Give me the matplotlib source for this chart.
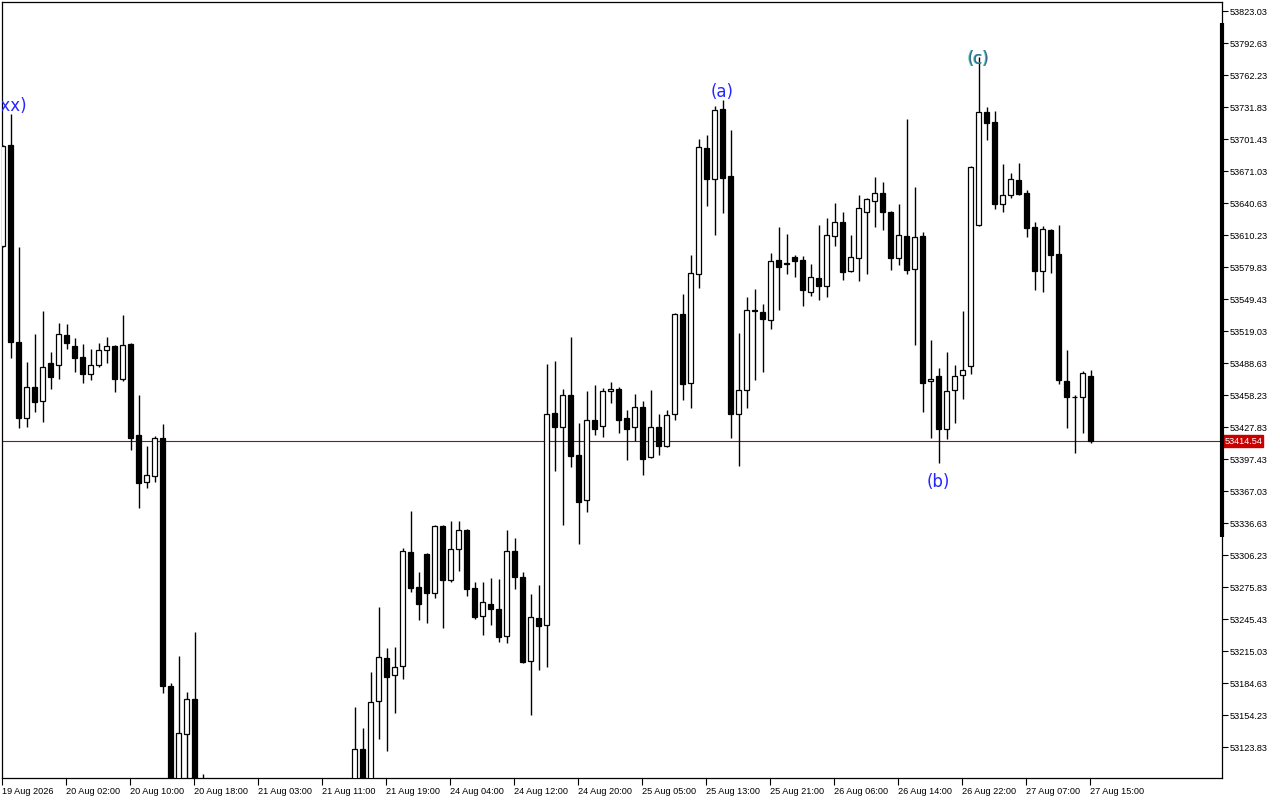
#!/usr/bin/env python3
''' Hourly candles with wave labels, drawn in the style of a trading terminal '''
import matplotlib
matplotlib.use('Agg')
import matplotlib.pyplot as plt
import matplotlib.transforms as mtrans
import numpy as np

# OHLC of the hourly bars, 19 Aug 18:00 .. 27 Aug 15:00
opens = [53599.8, 53695.7, 53508.6, 53436.4, 53465.8, 53452.5, 53488.6, 53486.7, 53515.2, 53504.8,
         53494.3, 53478.2, 53486.7, 53501.0, 53504.8, 53473.4, 53506.7, 53420.2, 53375.6, 53381.3,
         53417.4, 53181.8, 53075.4, 53136.2, 53169.4, 53060.0, 53040.0, 53020.0, 53035.0, 53055.0,
         53038.0, 53012.0, 52998.0, 53018.0, 53048.0, 53030.0, 53006.0, 53028.0, 53050.0, 53040.0,
         53058.0, 53070.0, 53052.0, 53068.0, 53075.0, 53121.9, 53082.0, 53167.5, 53208.4, 53192.2,
         53200.8, 53309.1, 53275.8, 53307.2, 53270.1, 53333.8, 53282.5, 53311.9, 53330.0, 53274.9,
         53248.3, 53259.7, 53254.9, 53229.3, 53310.0, 53285.3, 53205.5, 53246.4, 53239.7, 53441.1,
         53427.8, 53458.2, 53401.2, 53358.5, 53434.5, 53428.8, 53462.0, 53463.9, 53436.4, 53427.8,
         53446.8, 53399.3, 53427.8, 53409.8, 53440.2, 53535.2, 53469.6, 53573.2, 53692.9, 53663.4,
         53729.9, 53666.3, 53440.2, 53463.0, 53539.0, 53537.1, 53529.5, 53586.5, 53583.6, 53589.3,
         53586.5, 53556.1, 53569.4, 53561.8, 53609.3, 53622.6, 53576.0, 53588.4, 53632.1, 53642.5,
         53650.1, 53632.1, 53588.4, 53609.3, 53577.9, 53609.3, 53471.5, 53476.3, 53425.9, 53463.0,
         53477.2, 53485.8, 53619.7, 53727.1, 53717.6, 53639.7, 53648.2, 53662.5, 53650.1, 53617.8,
         53576.0, 53615.0, 53592.2, 53471.5, 53456.3, 53456.3, 53476.3]
highs = [53695.3, 53725.2, 53598.8, 53489.6, 53516.2, 53538.0, 53499.1, 53526.6, 53525.7, 53512.4,
         53506.7, 53501.9, 53507.6, 53513.3, 53506.0, 53534.2, 53507.5, 53458.2, 53409.8, 53419.3,
         53430.7, 53184.6, 53210.3, 53176.1, 53233.1, 53098.2, 53065.0, 53048.0, 53070.0, 53080.0,
         53052.0, 53030.0, 53026.0, 53060.0, 53075.0, 53044.0, 53035.0, 53062.0, 53078.0, 53066.0,
         53085.0, 53088.0, 53080.0, 53090.0, 53161.8, 53141.9, 53195.1, 53256.8, 53217.9, 53218.8,
         53312.9, 53348.0, 53290.1, 53308.0, 53335.0, 53335.0, 53338.5, 53338.5, 53331.0, 53280.6,
         53280.6, 53284.4, 53283.4, 53330.0, 53322.4, 53290.1, 53269.2, 53277.7, 53487.7, 53490.5,
         53463.9, 53513.3, 53431.6, 53462.0, 53467.7, 53464.9, 53470.6, 53465.8, 53444.0, 53459.2,
         53452.5, 53463.0, 53440.2, 53444.0, 53536.1, 53554.2, 53591.2, 53701.4, 53705.2, 53732.8,
         53738.5, 53710.0, 53517.1, 53551.3, 53558.9, 53544.7, 53593.1, 53617.8, 53611.2, 53591.2,
         53590.3, 53582.7, 53619.7, 53626.4, 53640.6, 53632.1, 53610.2, 53648.2, 53645.4, 53665.3,
         53660.6, 53633.0, 53639.7, 53720.4, 53655.8, 53613.1, 53510.5, 53483.9, 53499.1, 53486.7,
         53538.0, 53675.8, 53779.3, 53731.8, 53728.0, 53677.7, 53669.1, 53678.6, 53653.0, 53622.6,
         53618.8, 53615.9, 53619.7, 53501.0, 53458.2, 53481.0, 53482.0]
lows = [53599.3, 53493.4, 53426.9, 53427.8, 53442.1, 53432.6, 53463.9, 53473.4, 53501.9, 53480.1,
        53469.6, 53472.5, 53484.8, 53488.6, 53461.1, 53471.5, 53406.0, 53350.9, 53369.9, 53375.6,
        53175.1, 53059.2, 53064.0, 53080.0, 53050.0, 53025.0, 53010.0, 52995.0, 53015.0, 53030.0,
        53002.0, 52985.0, 52978.0, 53008.0, 53022.0, 52992.0, 52990.0, 53015.0, 53032.0, 53020.0,
        53040.0, 53045.0, 53038.0, 53050.0, 53060.0, 53065.0, 53070.0, 53131.4, 53120.0, 53156.1,
        53188.4, 53271.1, 53244.5, 53241.6, 53265.4, 53236.9, 53281.0, 53291.0, 53267.3, 53245.4,
        53230.2, 53239.7, 53223.6, 53222.6, 53273.9, 53203.6, 53154.2, 53197.0, 53199.8, 53386.0,
        53334.7, 53389.8, 53316.7, 53347.1, 53420.2, 53418.3, 53450.6, 53422.1, 53396.5, 53414.5,
        53382.2, 53398.4, 53401.2, 53408.8, 53434.5, 53453.5, 53445.9, 53559.9, 53637.8, 53610.2,
        53631.1, 53417.4, 53390.8, 53445.9, 53472.5, 53480.1, 53520.9, 53539.0, 53573.0, 53570.3,
        53542.8, 53552.3, 53548.5, 53551.3, 53599.8, 53567.5, 53575.0, 53566.5, 53573.2, 53617.8,
        53615.0, 53577.0, 53581.7, 53573.2, 53505.7, 53442.1, 53417.4, 53393.6, 53416.4, 53431.6,
        53454.4, 53478.2, 53619.0, 53700.5, 53634.9, 53632.1, 53645.4, 53648.2, 53608.3, 53558.0,
        53556.1, 53574.1, 53468.7, 53426.9, 53403.1, 53422.1, 53412.6]
closes = [53694.8, 53508.6, 53436.4, 53465.8, 53451.6, 53484.8, 53475.3, 53516.2, 53507.6, 53493.4,
          53478.2, 53486.7, 53501.0, 53504.8, 53473.4, 53505.7, 53417.4, 53374.6, 53382.2, 53417.4,
          53181.8, 53073.5, 53137.1, 53169.4, 53060.0, 53040.0, 53020.0, 53035.0, 53055.0, 53038.0,
          53012.0, 52998.0, 53018.0, 53048.0, 53030.0, 53006.0, 53028.0, 53050.0, 53040.0, 53058.0,
          53070.0, 53052.0, 53068.0, 53075.0, 53121.9, 53080.0, 53166.6, 53209.3, 53190.3, 53199.8,
          53310.0, 53274.9, 53259.7, 53270.1, 53333.8, 53282.5, 53311.9, 53330.0, 53273.9, 53247.3,
          53261.6, 53254.9, 53228.3, 53310.0, 53285.3, 53204.6, 53247.3, 53238.8, 53440.2, 53427.8,
          53458.2, 53400.3, 53356.6, 53434.5, 53425.9, 53462.0, 53463.9, 53434.5, 53425.9, 53446.8,
          53397.4, 53427.8, 53409.8, 53439.2, 53535.2, 53468.7, 53574.1, 53693.8, 53663.4, 53729.0,
          53664.4, 53440.2, 53463.0, 53539.0, 53538.0, 53530.4, 53585.5, 53579.8, 53582.7, 53585.5,
          53558.0, 53570.3, 53561.8, 53610.2, 53622.6, 53575.1, 53589.3, 53635.9, 53644.4, 53650.1,
          53632.1, 53588.4, 53610.2, 53577.0, 53608.3, 53469.6, 53473.4, 53425.9, 53462.0, 53476.3,
          53482.0, 53674.8, 53727.1, 53716.6, 53639.7, 53648.2, 53663.4, 53649.2, 53616.9, 53576.0,
          53615.9, 53591.2, 53472.5, 53456.3, 53456.8, 53479.1, 53414.54]

time_labels = ['19 Aug 2026', '20 Aug 02:00', '20 Aug 10:00', '20 Aug 18:00', '21 Aug 03:00',
               '21 Aug 11:00', '21 Aug 19:00', '24 Aug 04:00', '24 Aug 12:00', '24 Aug 20:00',
               '25 Aug 05:00', '25 Aug 13:00', '25 Aug 21:00', '26 Aug 06:00', '26 Aug 14:00',
               '26 Aug 22:00', '27 Aug 07:00', '27 Aug 15:00']
bars_per_label = 8

# price scale shown on the right
price_top = 53823.03
price_step = 30.40
n_price_ticks = 24
view_range = (53094.4, 53831.6)
scale_bar = (53323.0, 53812.0)

# wave marks: bar index, text, placed at 'high' or 'low'
wave_bars = [1, 90, 117, 122]
wave_texts = ['(xx)', '(a)', '(b)', '(c)']
wave_sides = ['high', 'high', 'low', 'center']

o = np.array(opens)
h = np.array(highs)
l = np.array(lows)
c = np.array(closes)
x = np.arange(len(o))
bull = c > o

fig = plt.figure(figsize=(12.8, 8), dpi=100)
ax = fig.add_axes([2 / 1280, 22 / 800, 1220 / 1280, 776 / 800])

# wicks, then the bodies over them
ax.vlines(x, l, h, color='black', linewidth=1.0, zorder=2)
body_low = np.minimum(o, c)
body_h = np.abs(c - o)
ax.bar(x[bull], body_h[bull], bottom=body_low[bull], width=0.62, color='white',
       edgecolor='black', linewidth=0.9, zorder=3)
ax.bar(x[~bull], body_h[~bull], bottom=body_low[~bull], width=0.62, color='black',
       edgecolor='black', linewidth=0.9, zorder=3)

# last price line and its tag on the scale
last = closes[-1]
ax.axhline(last, color='#7a1a1a', linewidth=0.8, zorder=1)
trans = mtrans.blended_transform_factory(ax.transAxes, ax.transData)
ax.text(1.0018, last, '%.2f' % last, transform=trans, ha='left', va='center',
        fontsize=6.6, family='Liberation Sans', color='white', clip_on=False,
        bbox=dict(boxstyle='square,pad=0.15', fc='#c80000', ec='#c80000'))
ax.plot([1.0, 1.0], scale_bar, transform=trans, color='black', linewidth=3.0,
        clip_on=False, solid_capstyle='butt', zorder=5)

# wave labels (the first one runs off the left edge, as on the terminal)
for b, t, side in zip(wave_bars, wave_texts, wave_sides):
    if side == 'high':
        ax.annotate(t, (b, highs[b]), xytext=(0, -0.5), textcoords='offset points',
                    ha='center', va='bottom', fontsize=12, color='#2626ff', clip_on=True)
    elif side == 'low':
        ax.annotate(t, (b, lows[b]), xytext=(0, -7), textcoords='offset points',
                    ha='center', va='top', fontsize=12, color='#2626ff', clip_on=True)
    else:
        ax.annotate(t, (b, highs[b]), xytext=(-0.4, -1.5), textcoords='offset points',
                    ha='center', va='center', fontsize=12, color='#40c8b0', clip_on=True)
        ax.annotate(t, (b, highs[b]), xytext=(0.2, -1.5), textcoords='offset points',
                    ha='center', va='center', fontsize=12, color='#3a6a8a', clip_on=True)

# axes, ticks, labels
ax.set_xlim(-0.0625, 152.44)
ax.set_ylim(*view_range)
yt = price_top - price_step * np.arange(n_price_ticks)
ax.set_yticks(yt)
ax.set_yticklabels(['%.2f' % v for v in yt])
ax.yaxis.tick_right()
ax.set_xticks(np.arange(len(time_labels)) * bars_per_label - 0.1)
ax.set_xticklabels(time_labels)
for lab in ax.get_xticklabels():
    lab.set_horizontalalignment('left')
ax.tick_params(axis='y', direction='out', length=4, width=0.8, pad=1.5,
               labelsize=6.6, colors='black')
ax.tick_params(axis='x', direction='out', length=5, width=0.8, pad=1.5,
               labelsize=6.6, colors='black')
for lab in ax.get_xticklabels() + ax.get_yticklabels():
    lab.set_family('Liberation Sans')
for sp in ax.spines.values():
    sp.set_color('black')
    sp.set_linewidth(0.9)

plt.savefig('out.png', dpi=100, facecolor='white')
